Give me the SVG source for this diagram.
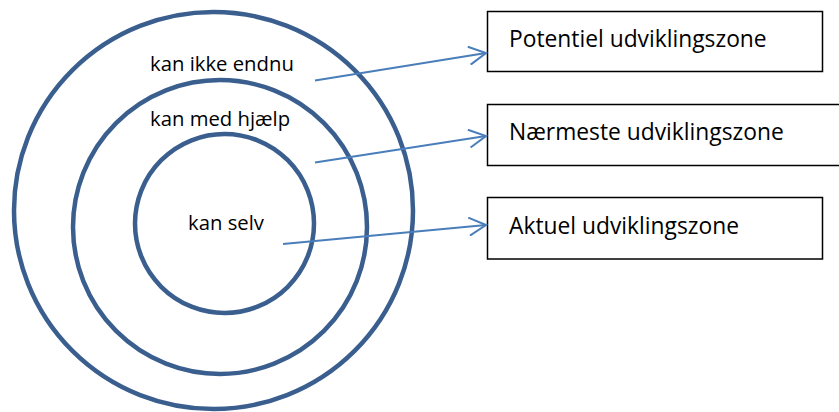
<svg xmlns="http://www.w3.org/2000/svg" width="839" height="412" viewBox="0 0 839 412">
<style>
.ring{fill:none;stroke:#3A5F8F;stroke-width:4.5}
.lbl{font-family:"Open Sans","Noto Sans",sans-serif;font-size:20.3px;fill:#000}
.box{fill:#fff;stroke:#000;stroke-width:1.5}
.btxt{font-family:"Open Sans","Noto Sans",sans-serif;font-size:22.8px;fill:#000}
.conn{fill:none;stroke:#4A7EBB;stroke-width:2}
</style>
<defs>
<marker id="arr" viewBox="0 0 20 20" refX="18" refY="10" markerWidth="20" markerHeight="20" markerUnits="userSpaceOnUse" orient="auto">
<path d="M1,1 L18,10 L1,19" fill="none" stroke="#4A7EBB" stroke-width="2"/>
</marker>
</defs>
<g id="outer">
<ellipse class="ring" cx="213.5" cy="210.5" rx="199.5" ry="198.5"/>
<text class="lbl" x="150" y="71">kan ikke endnu</text>
</g>
<g id="middle">
<circle class="ring" cx="220" cy="227" r="147"/>
<text class="lbl" x="150" y="126">kan med hjælp</text>
</g>
<g id="inner">
<circle class="ring" cx="224.5" cy="223.5" r="89.5"/>
<text class="lbl" x="188" y="230">kan selv</text>
</g>
<g id="box1">
<rect class="box" x="487.5" y="11.5" width="335" height="60"/>
<text class="btxt" x="509" y="47">Potentiel udviklingszone</text>
</g>
<g id="box2">
<rect class="box" x="487.5" y="104.5" width="360" height="61"/>
<text class="btxt" x="509" y="139.5">Nærmeste udviklingszone</text>
</g>
<g id="box3">
<rect class="box" x="487.5" y="197.5" width="335" height="61.5"/>
<text class="btxt" x="509" y="233.5">Aktuel udviklingszone</text>
</g>
<g id="connectors">
<line class="conn" x1="315" y1="80.5" x2="486" y2="53" marker-end="url(#arr)"/>
<line class="conn" x1="315" y1="162.5" x2="486" y2="136" marker-end="url(#arr)"/>
<line class="conn" x1="283" y1="244" x2="486" y2="225" marker-end="url(#arr)"/>
</g>
</svg>
